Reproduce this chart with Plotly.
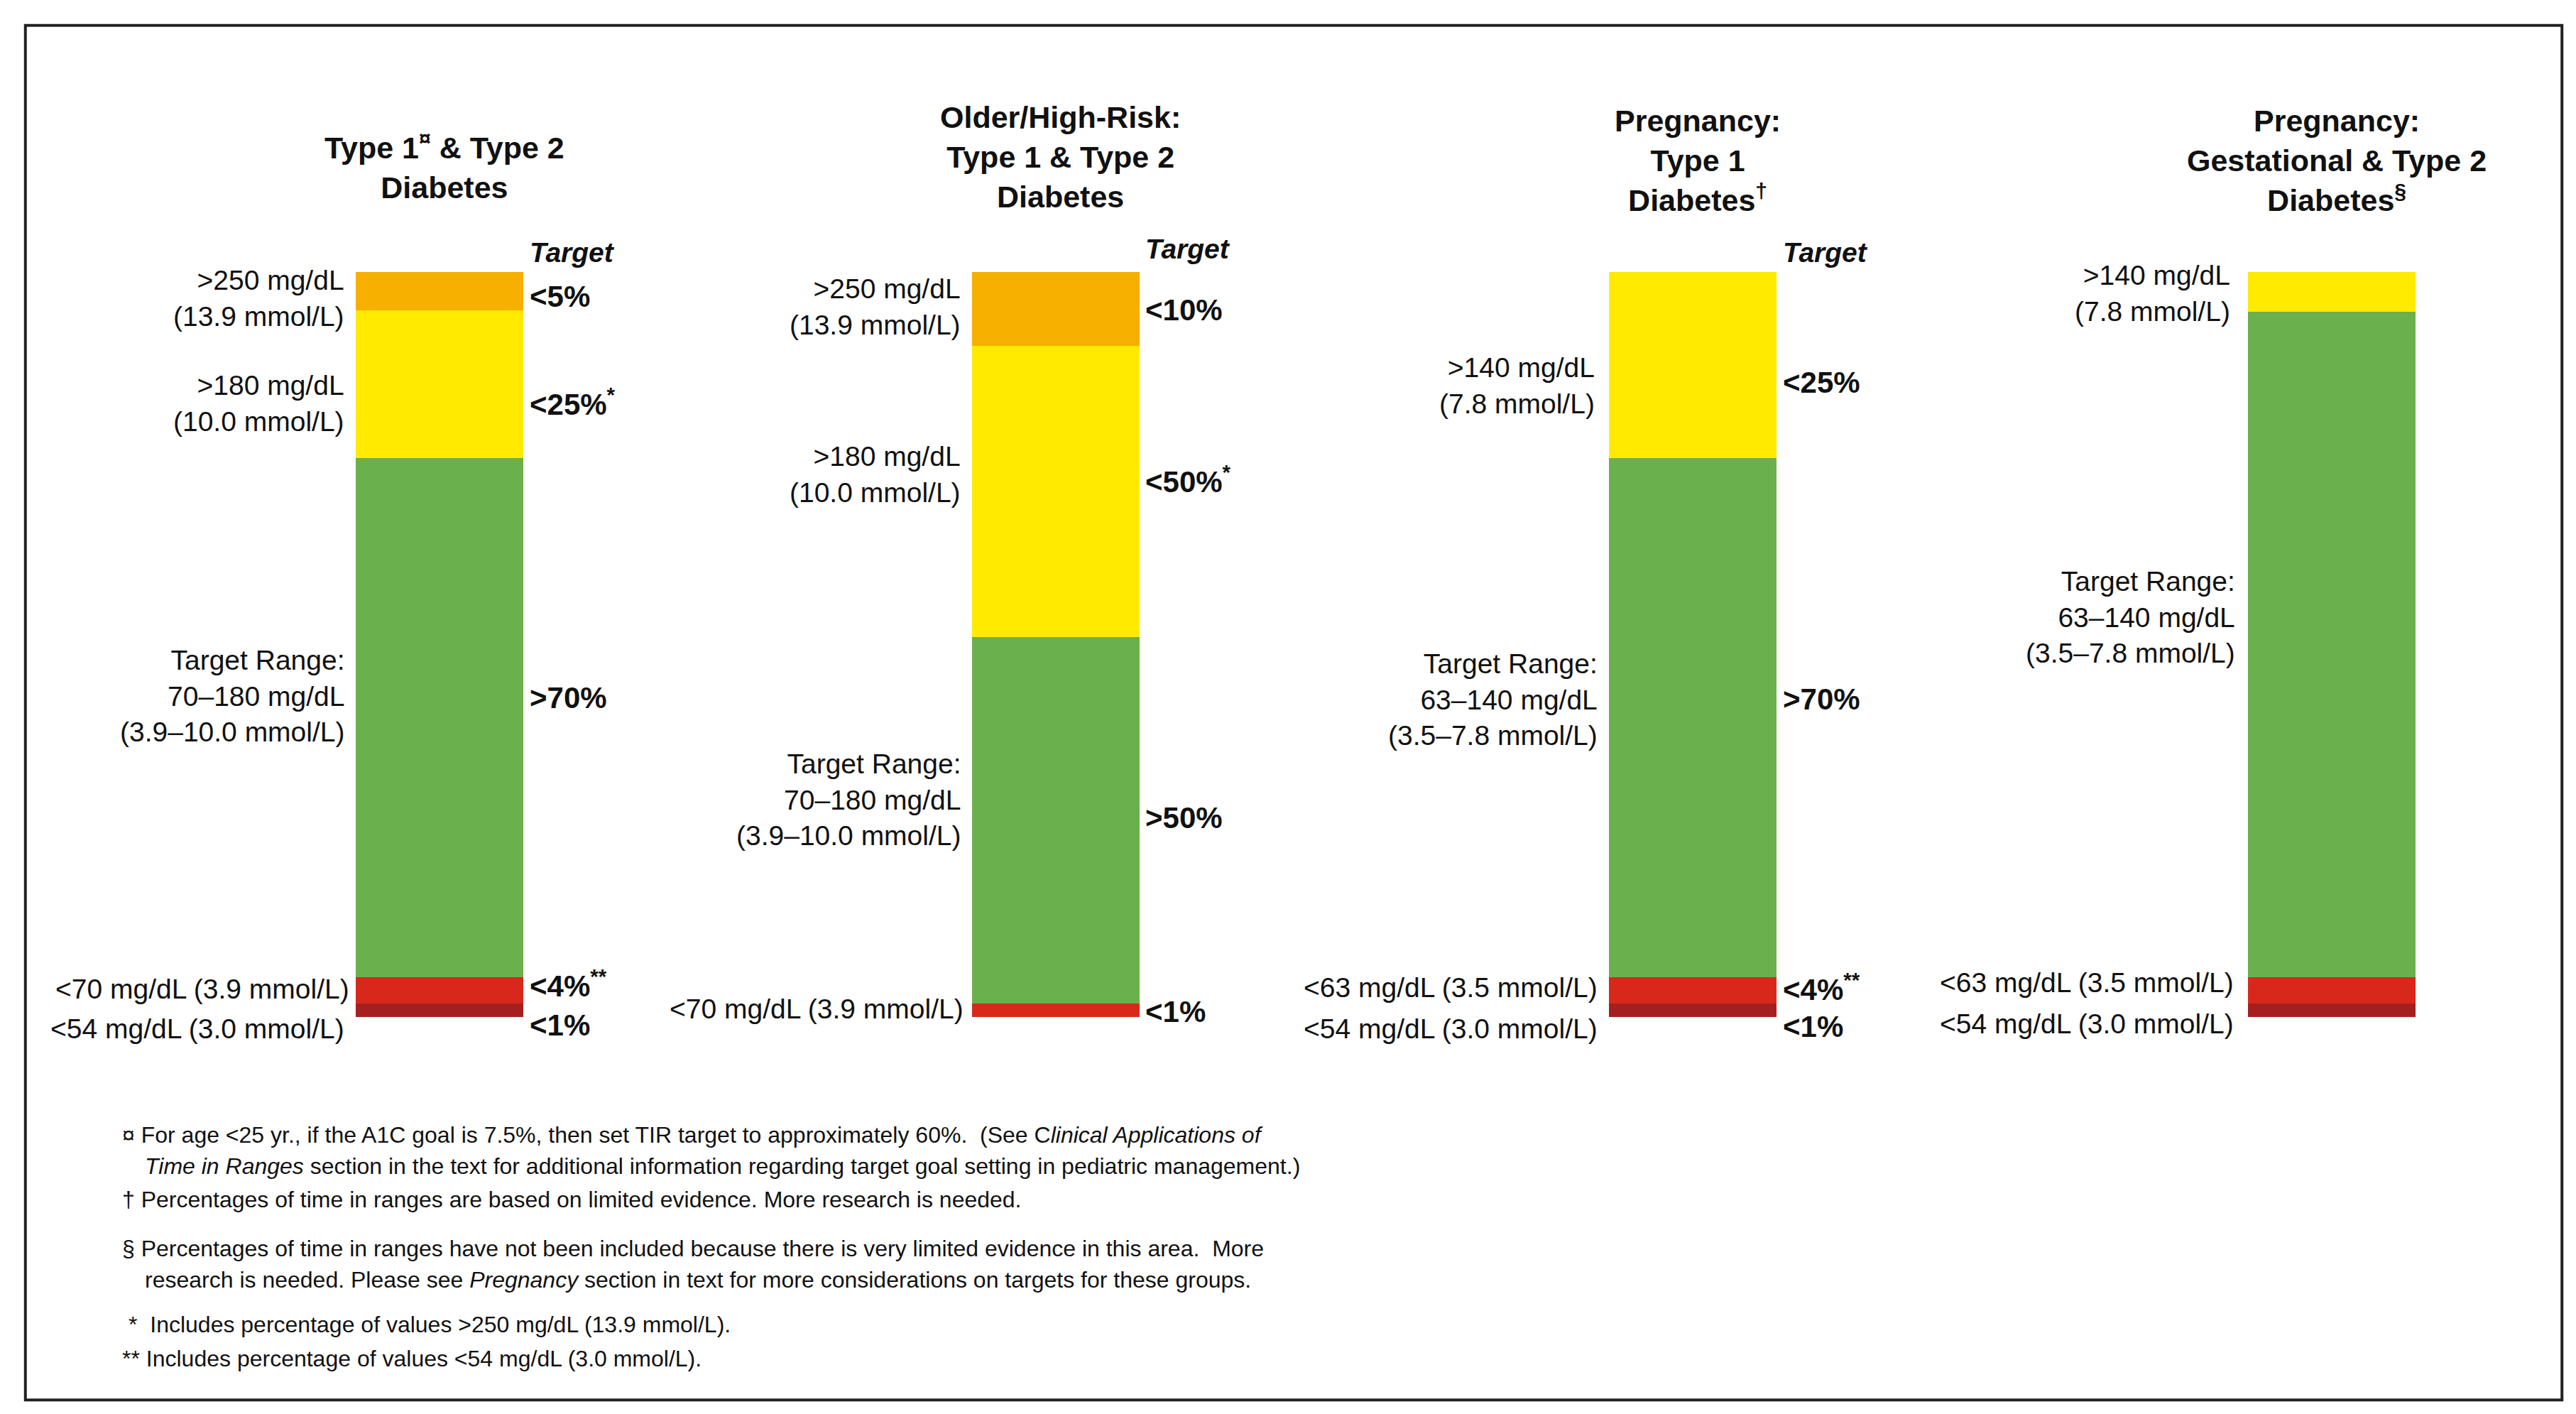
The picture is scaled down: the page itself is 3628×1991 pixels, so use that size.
import plotly.graph_objects as go

W, H = 1568, 860  # reference layout units
S = 3628 / W

x_pos = [264, 639, 1027, 1416]
seg_names = ["<54", "<70", "Target", ">180", ">250"]
dark_red = [1.8, 0, 1.8, 1.8]
red = [3.5, 1.8, 3.5, 3.5]
green = [69.7, 49.2, 69.7, 89.4]
yellow = [19.9, 39.1, 25.0, 5.3]
orange = [5.1, 9.9, 0, 0]
colors = ["#A51F1F", "#D8281C", "#6AB04C", "#FFEA00", "#F5B000"]

titles = ["<b>Type 1<sup>¤</sup> & Type 2<br>Diabetes</b>",
          "<b>Older/High-Risk:<br>Type 1 & Type 2<br>Diabetes</b>",
          "<b>Pregnancy:<br>Type 1<br>Diabetes<sup>†</sup></b>",
          "<b>Pregnancy:<br>Gestational & Type 2<br>Diabetes<sup>§</sup></b>"]
title_y = [97, 92, 94, 94]

left_labels = [
    [(207, 178, ">250 mg/dL<br>(13.9 mmol/L)"), (207, 242, ">180 mg/dL<br>(10.0 mmol/L)"),
     (207, 420, "Target Range:<br>70–180 mg/dL<br>(3.9–10.0 mmol/L)"),
     (210, 598, "<70 mg/dL (3.9 mmol/L)"), (207, 622, "<54 mg/dL (3.0 mmol/L)")],
    [(582, 183, ">250 mg/dL<br>(13.9 mmol/L)"), (582, 285, ">180 mg/dL<br>(10.0 mmol/L)"),
     (582, 483, "Target Range:<br>70–180 mg/dL<br>(3.9–10.0 mmol/L)"),
     (584, 610, "<70 mg/dL (3.9 mmol/L)")],
    [(968, 231, ">140 mg/dL<br>(7.8 mmol/L)"),
     (970, 422, "Target Range:<br>63–140 mg/dL<br>(3.5–7.8 mmol/L)"),
     (970, 597, "<63 mg/dL (3.5 mmol/L)"), (970, 622, "<54 mg/dL (3.0 mmol/L)")],
    [(1355, 175, ">140 mg/dL<br>(7.8 mmol/L)"),
     (1358, 372, "Target Range:<br>63–140 mg/dL<br>(3.5–7.8 mmol/L)"),
     (1357, 594, "<63 mg/dL (3.5 mmol/L)"), (1357, 619, "<54 mg/dL (3.0 mmol/L)")],
]
right_labels = [
    [(318, 150, "<b><i>Target</i></b>"), (318, 177, "<b><5%</b>"), (318, 241, "<b><25%<sup>*</sup></b>"),
     (318, 421, "<b>>70%</b>"), (318, 595, "<b><4%<sup>**</sup></b>"), (318, 620, "<b><1%</b>")],
    [(693, 148, "<b><i>Target</i></b>"), (693, 185, "<b><10%</b>"), (693, 288, "<b><50%<sup>*</sup></b>"),
     (693, 494, "<b>>50%</b>"), (693, 612, "<b><1%</b>")],
    [(1081, 150, "<b><i>Target</i></b>"), (1081, 229, "<b><25%</b>"), (1081, 422, "<b>>70%</b>"),
     (1081, 597, "<b><4%<sup>**</sup></b>"), (1081, 621, "<b><1%</b>")],
    [],
]
footnotes = [
    (70, 687, "¤ For age <25 yr., if the A1C goal is 7.5%, then set TIR target to approximately 60%.  (See C<i>linical Applications of</i>"),
    (84, 706, "<i>Time in Ranges</i> section in the text for additional information regarding target goal setting in pediatric management.)"),
    (70, 726, "† Percentages of time in ranges are based on limited evidence. More research is needed."),
    (70, 756, "§ Percentages of time in ranges have not been included because there is very limited evidence in this area.  More"),
    (84, 775, "research is needed. Please see <i>Pregnancy</i> section in text for more considerations on targets for these groups."),
    (74, 802, "*  Includes percentage of values >250 mg/dL (13.9 mmol/L)."),
    (70, 823, "** Includes percentage of values <54 mg/dL (3.0 mmol/L)."),
]

fig = go.Figure()
for name, vals, col in zip(seg_names, [dark_red, red, green, yellow, orange], colors):
    fig.add_trace(go.Bar(x=x_pos, y=vals, name=name, marker_color=col,
                         marker_line_width=0, width=102, showlegend=False))

bot, top = 615, 162
k = (bot - top) / 100.0
fig.update_layout(
    barmode="stack", width=3628, height=1991,
    margin=dict(l=0, r=0, t=0, b=0),
    paper_bgcolor="white", plot_bgcolor="white",
    font=dict(family="Arial, Liberation Sans, sans-serif", color="#111"),
    xaxis=dict(range=[0, W], visible=False, domain=[0, 1]),
    yaxis=dict(range=[(bot - H) / k, bot / k], visible=False, domain=[0, 1]),
)

def px(x): return x / W
def py(y): return 1 - y / H

ann = []
for xc, t, ty in zip(x_pos, titles, title_y):
    ann.append(dict(x=px(xc + 3), y=py(ty), text=t, font=dict(size=43), xanchor="center", yanchor="middle"))
for group in left_labels:
    for x, y, t in group:
        ann.append(dict(x=px(x), y=py(y), text=t, align="right", xanchor="right", yanchor="middle",
                        font=dict(size=39)))
for group in right_labels:
    for x, y, t in group:
        ann.append(dict(x=px(x), y=py(y), text=t, align="left", xanchor="left", yanchor="middle",
                        font=dict(size=42 if "Target" not in t else 39)))
for x, y, t in footnotes:
    ann.append(dict(x=px(x), y=py(y), text=t, align="left", xanchor="left", yanchor="middle",
                    font=dict(size=32)))
for a in ann:
    a.update(xref="paper", yref="paper", showarrow=False)
fig.update_layout(annotations=ann)
fig.add_shape(type="rect", xref="paper", yref="paper", x0=px(12), x1=px(1556), y0=py(848), y1=py(12),
              line=dict(color="#222", width=4))
fig.write_html("out.html")
